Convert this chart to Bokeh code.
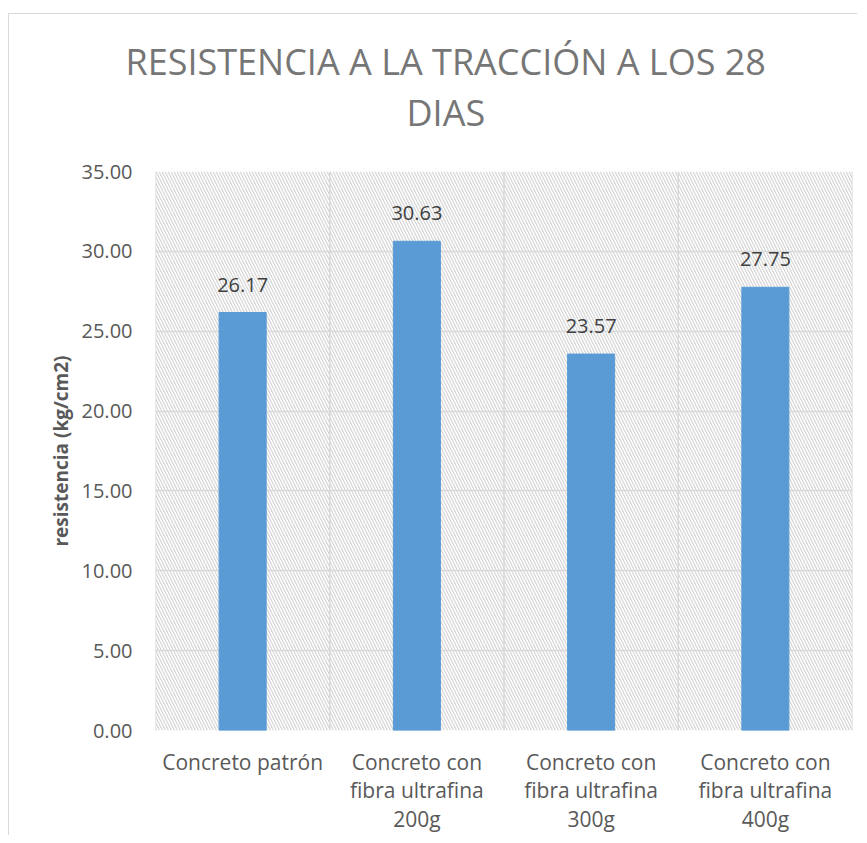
from bokeh.plotting import figure
from bokeh.models import (ColumnDataSource, BoxAnnotation, Span, Title,
                          SingleIntervalTicker, NumeralTickFormatter, Range1d)
from bokeh.core.properties import value
from bokeh.embed import file_html
from bokeh.resources import INLINE

categories = ["Concreto patrón", "Concreto con\nfibra ultrafina\n200g",
              "Concreto con\nfibra ultrafina\n300g", "Concreto con\nfibra ultrafina\n400g"]
values = [26.17, 30.63, 23.57, 27.75]
value_labels = ["26.17", "30.63", "23.57", "27.75"]
y_ticks_interval = 5
y_max = 35
title_line1 = "RESISTENCIA A LA TRACCIÓN A LOS 28"
title_line2 = "DIAS"

FONT = "Open Sans"
GRID = "#d9d9d9"
TXT = "#595959"

src = ColumnDataSource(dict(cat=categories, val=values, lab=value_labels))

p = figure(x_range=categories, y_range=Range1d(0, y_max), width=849, height=822,
           output_backend="svg", toolbar_location=None,
           min_border_left=146, min_border_right=6, min_border_top=157, min_border_bottom=100)
p.styles = {"margin-top": "13px", "margin-left": "8px",
            "border-top": "1.5px solid #d9d9d9", "border-left": "1.5px solid #d9d9d9"}
p.outline_line_color = None
p.background_fill_color = "white"

hatch = BoxAnnotation(fill_alpha=0, line_alpha=0, hatch_pattern="\\", hatch_color="#d4d4d4",
                      hatch_scale=6, hatch_weight=1.2, level="image")
p.add_layout(hatch)

for loc in range(len(categories) + 1):
    p.add_layout(Span(location=loc, dimension="height", line_color=GRID, line_width=1.5,
                      level="underlay"))

p.vbar(x="cat", top="val", width=0.27, source=src, color="#5B9BD5")
p.text(x="cat", y="val", text="lab", source=src, text_align="center", text_baseline="middle",
       y_offset=-28, text_font=value(FONT), text_font_size="20px", text_color="#404040")

p.xgrid.visible = False
p.ygrid.ticker = SingleIntervalTicker(interval=y_ticks_interval)
p.ygrid.grid_line_color = GRID
p.ygrid.grid_line_width = 1.5

p.yaxis.ticker = SingleIntervalTicker(interval=y_ticks_interval)
p.yaxis.formatter = NumeralTickFormatter(format="0.00")
for ax in (p.xaxis[0], p.yaxis[0]):
    ax.axis_line_color = None
    ax.major_tick_line_color = None
    ax.minor_tick_line_color = None
    ax.major_label_text_font = FONT
    ax.major_label_text_color = TXT
p.yaxis.major_label_text_font_size = "20px"
p.yaxis.major_label_standoff = 17
p.yaxis.axis_label = "resistencia (kg/cm2)"
p.yaxis.axis_label_text_font = FONT
p.yaxis.axis_label_text_font_size = "19px"
p.yaxis.axis_label_text_font_style = "bold"
p.yaxis.axis_label_text_color = TXT
p.yaxis.axis_label_standoff = 5

p.xaxis.major_label_text_font_size = "21px"
p.xaxis.major_label_standoff = 11
p.xaxis.major_label_text_line_height = 1.03

p.title = None
# stacked above the frame: spacer, second title line, first title line
spacer = Title(text=" ", text_font_size="1px", standoff=32)
t2 = Title(text=title_line2, align="left", text_font=FONT, text_font_size="36px",
           text_font_style="normal", text_color="#767676", standoff=0, offset=251)
t1 = Title(text=title_line1, align="left", text_font=FONT, text_font_size="36px",
           text_font_style="normal", text_color="#767676", standoff=0, offset=-30)
p.add_layout(spacer, "above")
p.add_layout(t2, "above")
p.add_layout(t1, "above")

open("out.html", "w").write(file_html(p, INLINE))
